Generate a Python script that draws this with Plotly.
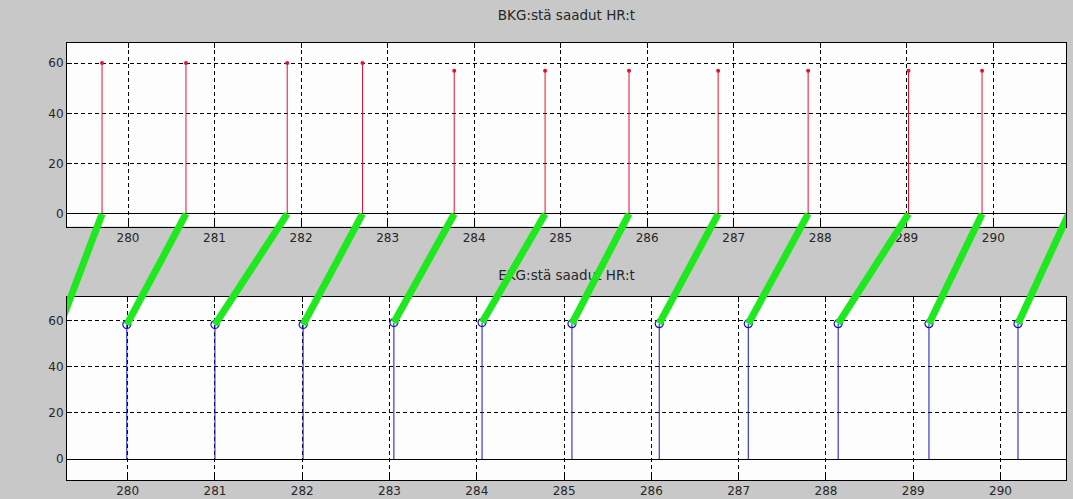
import plotly.graph_objects as go

# ---------------- data ----------------
top_title = "BKG:stä saadut HR:t"
bot_title = "EKG:stä saadut HR:t"

bkg_time = [279.70, 280.67, 281.84, 282.71, 283.77, 284.82, 285.79, 286.82, 287.86, 289.02, 289.87, 290.87]
bkg_hr = [60, 60, 60, 60, 57, 57, 57, 57, 57, 57, 57, 57]

ekg_time = [279.23, 279.99, 281.00, 282.01, 283.05, 284.06, 285.09, 286.09, 287.11, 288.14, 289.18, 290.20]
ekg_hr = [58.5, 58.3, 58.3, 58.3, 59.2, 59.2, 58.7, 58.7, 58.7, 58.7, 58.7, 58.7]

x_ticks = list(range(280, 291))
y_ticks = [0, 20, 40, 60]

# ---------------- layout geometry ----------------
W, H = 1073, 499
ML, MR, MT, MB = 67, 7, 0, 19
PH = H - MT - MB

top_xr = [279.295, 290.84]
top_yr = [-5, 68.2]
bot_xr = [279.305, 290.75]
bot_yr = [-9.1, 70.5]
dom_top = [253.5 / PH, 437.5 / PH]
dom_bot = [0.0, 183.5 / PH]

TICK_FONT = "DejaVu Sans"
TITLE_FONT = "DejaVu Sans"


def stems(xs, ys):
    xx, yy = [], []
    for x, y in zip(xs, ys):
        xx += [x, x, None]
        yy += [0, y, None]
    return xx, yy


def px(x, rng):
    return (x - rng[0]) / (rng[1] - rng[0])


def py(y, rng, dom):
    return dom[0] + (y - rng[0]) / (rng[1] - rng[0]) * (dom[1] - dom[0])


fig = go.Figure()

# top stems (red)
sx, sy = stems(bkg_time, bkg_hr)
fig.add_trace(go.Scatter(x=sx, y=sy, mode="lines", line=dict(color="rgb(225,20,45)", width=1),
                         xaxis="x", yaxis="y"))
fig.add_trace(go.Scatter(x=bkg_time, y=bkg_hr, mode="markers",
                         marker=dict(color="rgb(225,20,45)", size=4, symbol="circle"),
                         xaxis="x", yaxis="y", cliponaxis=True))

# bottom stems (blue)
sx, sy = stems(ekg_time, ekg_hr)
fig.add_trace(go.Scatter(x=sx, y=sy, mode="lines", line=dict(color="rgb(20,20,190)", width=1),
                         xaxis="x2", yaxis="y2"))
fig.add_trace(go.Scatter(x=ekg_time, y=ekg_hr, mode="markers",
                         marker=dict(color="rgb(20,20,190)", size=8, symbol="circle-open",
                                     line=dict(width=1.2)),
                         xaxis="x2", yaxis="y2", cliponaxis=True))

# titles (in overlay so the green links pass over them)
fig.add_trace(go.Scatter(x=[0.5, 0.5],
                         y=[dom_top[1] + 26 / PH, dom_bot[1] + 19.5 / PH],
                         text=[top_title, bot_title], mode="text",
                         textfont=dict(family=TITLE_FONT, size=13.5, color="#262626"),
                         xaxis="x3", yaxis="y3", cliponaxis=False))

# green links: BKG stem foot -> EKG stem top
gx, gy = [], []
for tb, te, he in zip(bkg_time, ekg_time, ekg_hr):
    gx += [px(tb, top_xr), px(te, bot_xr), None]
    gy += [py(0, top_yr, dom_top), py(he, bot_yr, dom_bot), None]
fig.add_trace(go.Scatter(x=gx, y=gy, mode="lines", line=dict(color="rgb(30,232,30)", width=7),
                         xaxis="x3", yaxis="y3"))

axis_common = dict(
    showline=True, linecolor="black", linewidth=1, mirror="ticks",
    ticks="inside", ticklen=5, tickcolor="black", tickwidth=1,
    showgrid=True, gridcolor="black", griddash="4px,3px", gridwidth=1,
    tickfont=dict(family=TICK_FONT, size=12, color="#262626"),
    fixedrange=True,
)

fig.update_layout(
    width=W, height=H,
    margin=dict(l=ML, r=MR, t=MT, b=MB, pad=0),
    paper_bgcolor="#c8c8c8",
    plot_bgcolor="rgba(0,0,0,0)",
    showlegend=False,
    hovermode=False,
    xaxis=dict(domain=[0, 1], range=top_xr, tickvals=x_ticks, zeroline=False, anchor="y", **axis_common),
    yaxis=dict(domain=dom_top, range=top_yr, tickvals=y_ticks, zeroline=True,
               zerolinecolor="black", zerolinewidth=1, anchor="x", **axis_common),
    xaxis2=dict(domain=[0, 1], range=bot_xr, tickvals=x_ticks, zeroline=False, anchor="y2", **axis_common),
    yaxis2=dict(domain=dom_bot, range=bot_yr, tickvals=y_ticks, zeroline=True,
                zerolinecolor="black", zerolinewidth=1, anchor="x2", **axis_common),
    xaxis3=dict(domain=[0, 1], range=[0, 1], visible=False, anchor="y3", fixedrange=True),
    yaxis3=dict(domain=[0, 1], range=[0, 1], visible=False, anchor="x3", fixedrange=True),
    shapes=[
        dict(type="rect", xref="x domain", yref="y domain", x0=0, x1=1, y0=0, y1=1,
             fillcolor="#fdfdfd", line=dict(width=0), layer="below"),
        dict(type="rect", xref="x2 domain", yref="y2 domain", x0=0, x1=1, y0=0, y1=1,
             fillcolor="#fdfdfd", line=dict(width=0), layer="below"),
    ],
)

fig.write_html(
    "out.html",
    config={"displayModeBar": False},
    post_script="document.body.style.margin='0';document.body.style.overflow='hidden';"
                "document.body.style.background='#c8c8c8';",
)
